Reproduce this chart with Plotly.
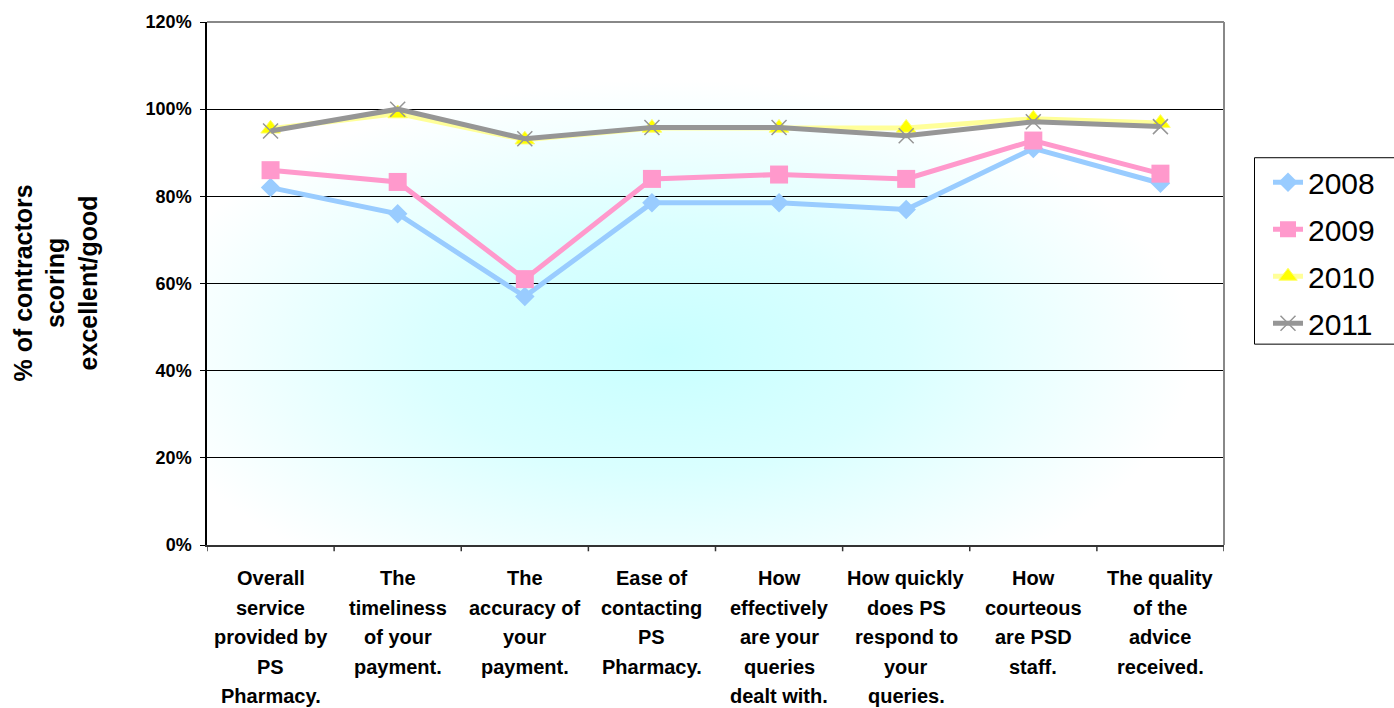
import base64
import plotly.graph_objects as go

categories = [
    "Overall<br>service<br>provided by<br>PS<br>Pharmacy.",
    "The<br>timeliness<br>of your<br>payment.",
    "The<br>accuracy of<br>your<br>payment.",
    "Ease of<br>contacting<br>PS<br>Pharmacy.",
    "How<br>effectively<br>are your<br>queries<br>dealt with.",
    "How quickly<br>does PS<br>respond to<br>your<br>queries.",
    "How<br>courteous<br>are PSD<br>staff.",
    "The quality<br>of the<br>advice<br>received.",
]
years = ["2008", "2009", "2010", "2011"]
v2008 = [0.82, 0.76, 0.57, 0.785, 0.785, 0.77, 0.91, 0.83]
v2009 = [0.86, 0.833, 0.61, 0.84, 0.85, 0.84, 0.928, 0.852]
v2010 = [0.955, 0.99, 0.93, 0.957, 0.957, 0.957, 0.978, 0.968]
v2011 = [0.95, 1.00, 0.932, 0.958, 0.958, 0.939, 0.971, 0.96]
yticks = [0, 0.2, 0.4, 0.6, 0.8, 1.0, 1.2]

FONT = "Liberation Sans, Arial, sans-serif"
W, H = 1394, 708
L, R, T, B = 207, 170, 19, 163
PW, PH = W - L - R, H - T - B


def px_x(p):
    return (p - L) / PW


def px_y(p):
    return (H - B - p) / PH


styles = [
    dict(line=dict(color="#99CCFF", width=5),
         marker=dict(symbol="diamond", size=15, color="#99CCFF")),
    dict(line=dict(color="#FF99CC", width=5),
         marker=dict(symbol="square", size=18, color="#FF99CC")),
    dict(line=dict(color="#FFFF99", width=5),
         marker=dict(symbol="triangle-up", size=17, color="#FFFF00",
                     line=dict(color="#FFFF66", width=1))),
    dict(line=dict(color="#969696", width=5),
         marker=dict(symbol="x-thin", size=15, color="#969696",
                     line=dict(color="#969696", width=1.5))),
]

fig = go.Figure()
for name, vals, st in zip(years, [v2008, v2009, v2010, v2011], styles):
    fig.add_trace(go.Scatter(
        x=list(range(len(categories))), y=vals, name=name, mode="lines+markers",
        legendgroup=name, **st))

svg = (
    '<svg xmlns="http://www.w3.org/2000/svg" width="1000" height="520" '
    'viewBox="0 0 1000 520" preserveAspectRatio="none">'
    '<defs><radialGradient id="g" cx="0.45" cy="0.63" r="0.52" fx="0.45" fy="0.63">'
    '<stop offset="0" stop-color="#C8FFFF"/>'
    '<stop offset="0.45" stop-color="#DAFFFF"/>'
    '<stop offset="1" stop-color="#FFFFFF"/>'
    '</radialGradient></defs>'
    '<rect x="0" y="0" width="1000" height="520" fill="url(#g)"/></svg>'
)
src = "data:image/svg+xml;base64," + base64.b64encode(svg.encode()).decode()

# category labels: one annotation per line for Excel-like 30px line spacing
annotations = []
for i, lab in enumerate(categories):
    for k, line in enumerate(lab.split("<br>")):
        annotations.append(dict(
            text=line, xref="x", yref="paper", x=i, y=0,
            xanchor="center", yanchor="middle", yshift=-(33 + 29.5 * k),
            showarrow=False,
            font=dict(family=FONT, size=20, weight="bold", color="black")))

annotations.append(dict(
    text="% of contractors<br>scoring<br>excellent/good",
    textangle=-90, xref="paper", yref="paper",
    x=px_x(55), y=px_y(282), xanchor="center", yanchor="middle",
    showarrow=False,
    font=dict(family=FONT, size=25, weight="bold", color="black")))

fig.update_layout(
    width=W, height=H,
    margin=dict(l=L, r=R, t=T, b=B),
    paper_bgcolor="white", plot_bgcolor="rgba(0,0,0,0)",
    font=dict(family=FONT, color="black"),
    images=[dict(source=src, xref="paper", yref="paper", x=0, y=1,
                 sizex=1, sizey=1, sizing="stretch", layer="below",
                 xanchor="left", yanchor="top")],
    showlegend=True,
    legend=dict(x=px_x(1268), y=px_y(154), xanchor="left", yanchor="top",
                borderwidth=0, bgcolor="rgba(0,0,0,0)",
                font=dict(family=FONT, size=30, color="black"),
                tracegroupgap=5, itemwidth=30),
    xaxis=dict(range=[-0.5, len(categories) - 0.5],
               tickmode="array", tickvals=list(range(len(categories))),
               showticklabels=False, showgrid=False, showline=True,
               linecolor="#333333", linewidth=1.5, ticks="", zeroline=False),
    yaxis=dict(range=[0, 1.2], tickvals=yticks, tickformat=".0%",
               showgrid=True, gridcolor="black", gridwidth=1,
               showline=True, linecolor="black", linewidth=1.5,
               ticks="outside", ticklen=5, tickcolor="black",
               tickfont=dict(family=FONT, size=18, weight="bold", color="black"),
               ticklabelstandoff=5, zeroline=False),
    annotations=annotations,
)

shapes = []
for i in range(len(categories) + 1):
    shapes.append(dict(type="line", xref="x", yref="paper",
                       x0=i - 0.5, x1=i - 0.5, y0=0, y1=-0.012,
                       line=dict(color="#333333", width=1.5)))
shapes.append(dict(type="line", xref="paper", yref="paper", x0=0, x1=1, y0=1, y1=1,
                   line=dict(color="#888888", width=2)))
shapes.append(dict(type="line", xref="paper", yref="paper", x0=1, x1=1, y0=0, y1=1,
                   line=dict(color="#888888", width=2)))
# legend frame
shapes.append(dict(type="rect", xref="paper", yref="paper",
                   x0=px_x(1254.5), x1=px_x(1400), y0=px_y(343), y1=px_y(155.5),
                   line=dict(color="black", width=1), fillcolor="white"))
fig.update_layout(shapes=shapes)

fig.write_html("out.html")
